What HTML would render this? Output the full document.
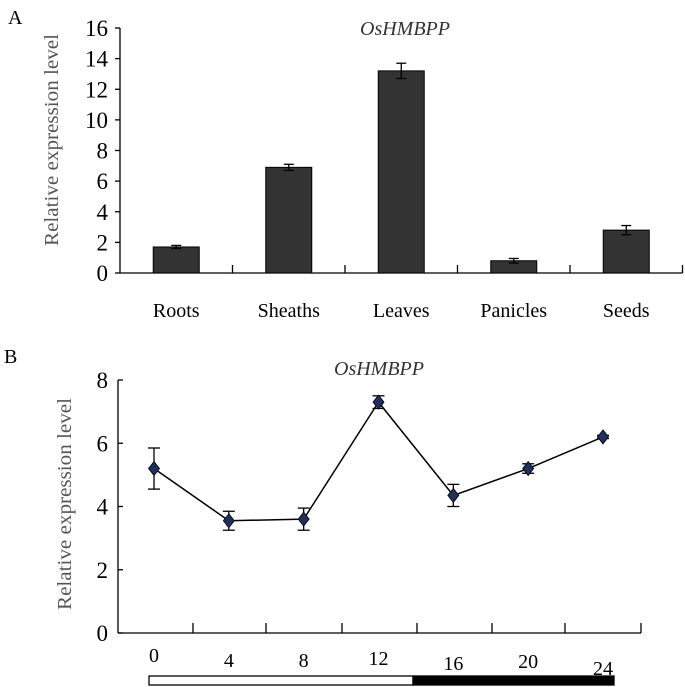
<!DOCTYPE html>
<html><head><meta charset="utf-8"><style>
body{margin:0;background:#fff;}
svg{display:block;font-family:"Liberation Serif",serif;}
</style></head><body>
<svg width="685" height="687" viewBox="0 0 685 687">
<g id="A"></g>
<g id="B"></g>
</svg>
<script>
const catsA=["Roots","Sheaths","Leaves","Panicles","Seeds"];
const valsA=[1.7,6.9,13.2,0.8,2.8];
const errA=[0.1,0.2,0.5,0.15,0.3];
const ticksA=[0,2,4,6,8,10,12,14,16];
const timesB=[0,4,8,12,16,20,24];
const valsB=[5.2,3.55,3.6,7.3,4.35,5.2,6.2];
const errB=[0.65,0.3,0.35,0.2,0.35,0.15,0.05];
const ticksB=[0,2,4,6,8];
const NS="http://www.w3.org/2000/svg";
function mk(p,t,a,txt){const e=document.createElementNS(NS,t);for(const k in a)e.setAttribute(k,a[k]);if(txt!==undefined)e.textContent=txt;p.appendChild(e);return e;}
// Panel A
const A=document.getElementById('A');
const yA=v=>273-v*(245/16);
const x0A=120,bandA=112.5;
const xA=i=>x0A+bandA*(i+0.5);
let t=mk(A,'text',{x:8,y:24,'font-size':20},'A');

t=mk(A,'text',{x:405,y:35,'font-size':20,'font-style':'italic','text-anchor':'middle',fill:'#333'},'OsHMBPP');

t=mk(A,'text',{transform:'translate(58,140) rotate(-90)','font-size':20,'text-anchor':'middle',fill:'#555',textLength:212,lengthAdjust:'spacingAndGlyphs'},'Relative expression level');

let ax=mk(A,'line',{x1:x0A,y1:yA(16),x2:x0A,y2:yA(0),stroke:'#000','stroke-width':1.3});

ax=mk(A,'line',{x1:x0A,y1:yA(0),x2:x0A+bandA*5,y2:yA(0),stroke:'#000','stroke-width':1.3});

ticksA.forEach(v=>{
 mk(A,'line',{x1:x0A-5,y1:yA(v),x2:x0A,y2:yA(v),stroke:'#000','stroke-width':1.3});
 const l=mk(A,'text',{x:x0A-12,y:yA(v)+8,'font-size':23,'text-anchor':'end'},v);
 
});
for(let i=1;i<=5;i++)mk(A,'line',{x1:x0A+bandA*i,y1:yA(0),x2:x0A+bandA*i,y2:yA(0)-8,stroke:'#000','stroke-width':1.3});
catsA.forEach((c,i)=>{
 const b=mk(A,'rect',{x:xA(i)-23,y:yA(valsA[i]),width:46,height:yA(0)-yA(valsA[i]),fill:'#333',stroke:'#000','stroke-width':1});
 
 const hi=yA(valsA[i]+errA[i]),lo=yA(valsA[i]-errA[i]);
 const g=mk(A,'g',{stroke:'#000','stroke-width':1.3});
 
 mk(g,'line',{x1:xA(i),y1:hi,x2:xA(i),y2:lo});
 mk(g,'line',{x1:xA(i)-5,y1:hi,x2:xA(i)+5,y2:hi});
 mk(g,'line',{x1:xA(i)-5,y1:lo,x2:xA(i)+5,y2:lo});
 const l=mk(A,'text',{x:xA(i),y:317,'font-size':20,'text-anchor':'middle'},c);
 
});
// Panel B
const B=document.getElementById('B');
const yB=v=>633-v*(253/8);
const xB=h=>154+h*(449/24);
const x0B=118;
t=mk(B,'text',{x:4,y:363,'font-size':20},'B');

t=mk(B,'text',{x:379,y:375,'font-size':20,'font-style':'italic','text-anchor':'middle',fill:'#333'},'OsHMBPP');

t=mk(B,'text',{transform:'translate(71,504) rotate(-90)','font-size':20,'text-anchor':'middle',fill:'#555',textLength:212,lengthAdjust:'spacingAndGlyphs'},'Relative expression level');

ax=mk(B,'line',{x1:x0B,y1:yB(8),x2:x0B,y2:yB(0),stroke:'#000','stroke-width':1.3});

ax=mk(B,'line',{x1:x0B,y1:yB(0),x2:641,y2:yB(0),stroke:'#000','stroke-width':1.3});

ticksB.forEach(v=>{
 mk(B,'line',{x1:x0B,y1:yB(v),x2:x0B+5,y2:yB(v),stroke:'#000','stroke-width':1.3});
 const l=mk(B,'text',{x:x0B-10,y:yB(v)+8,'font-size':23,'text-anchor':'end'},v);
 
});
[193,266,342,417,492,565,641].forEach(x=>mk(B,'line',{x1:x,y1:yB(0),x2:x,y2:yB(0)-10,stroke:'#000','stroke-width':1.3}));
const ln=mk(B,'polyline',{points:timesB.map((h,i)=>xB(h)+','+yB(valsB[i])).join(' '),fill:'none',stroke:'#000','stroke-width':1.5});

const dy=[0,5,5,3,8,6,13];
timesB.forEach((h,i)=>{
 const x=xB(h),y=yB(valsB[i]),hi=yB(valsB[i]+errB[i]),lo=yB(valsB[i]-errB[i]);
 const g=mk(B,'g',{stroke:'#000','stroke-width':1.3});
 
 mk(g,'line',{x1:x,y1:hi,x2:x,y2:lo});
 mk(g,'line',{x1:x-6,y1:hi,x2:x+6,y2:hi});
 mk(g,'line',{x1:x-6,y1:lo,x2:x+6,y2:lo});
 const p=mk(B,'polygon',{points:`${x},${y-7} ${x+5.5},${y} ${x},${y+7} ${x-5.5},${y}`,fill:'#1f2f5f',stroke:'#000','stroke-width':0.8});
 
 const l=mk(B,'text',{x:x,y:662+dy[i],'font-size':20,'text-anchor':'middle'},h);
 
});
let r=mk(B,'rect',{x:149,y:676,width:264,height:9,fill:'#fff',stroke:'#000','stroke-width':1.3});

r=mk(B,'rect',{x:413,y:676,width:201,height:9,fill:'#000',stroke:'#000','stroke-width':1.3});

</script>
</body></html>
